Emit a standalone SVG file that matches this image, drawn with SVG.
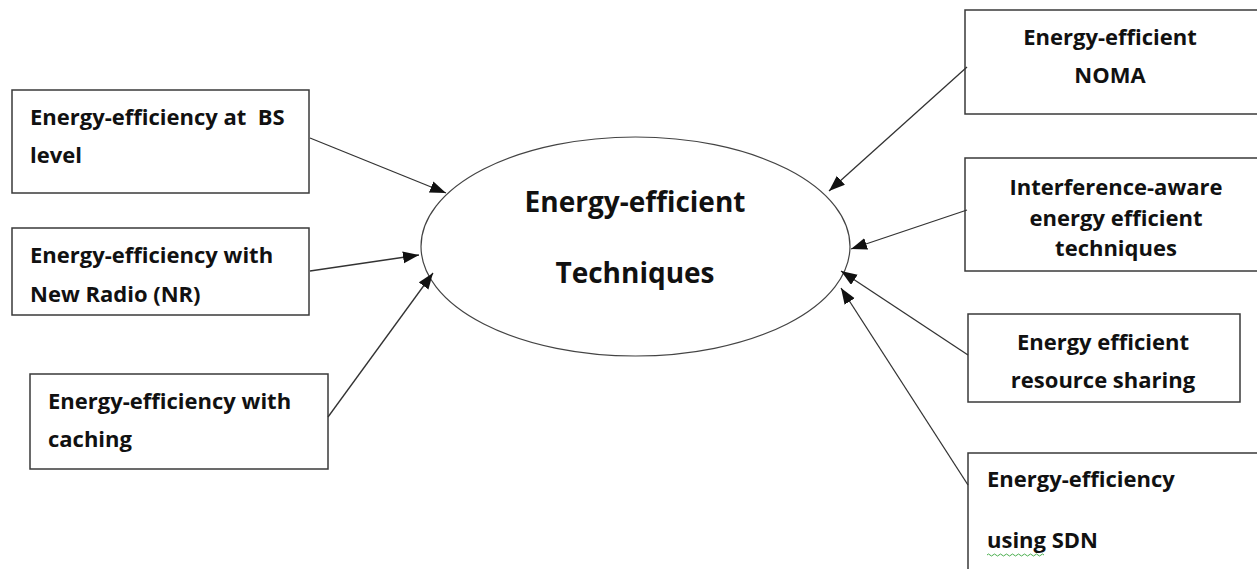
<svg xmlns="http://www.w3.org/2000/svg" width="1257" height="569" viewBox="0 0 1257 569">
<style>
.box{fill:#fff;stroke:#3a3a3a;stroke-width:1.5}
.ell{fill:#fff;stroke:#444;stroke-width:1.2}
.t{font-family:"Open Sans","Liberation Sans",sans-serif;font-weight:bold;font-size:22px;fill:#111}
.c{text-anchor:middle}
.big{font-size:28px}
.con{stroke:#333;stroke-width:1.3;fill:none;marker-end:url(#ah)}
</style>
<defs>
<marker id="ah" markerUnits="userSpaceOnUse" markerWidth="18" markerHeight="14" refX="16" refY="6" orient="auto">
<path d="M0,0 L16,6 L0,12 Z" fill="#111"/>
</marker>
</defs>
<rect width="1257" height="569" fill="#fff"/>
<g id="center">
<ellipse class="ell" cx="635.5" cy="246.5" rx="214.5" ry="109.5"/>
<text class="t c big" x="635" y="212">Energy-efficient</text>
<text class="t c big" x="635" y="283">Techniques</text>
</g>
<g id="bs">
<rect class="box" x="12" y="90" width="297" height="103"/>
<text class="t" x="30" y="125" xml:space="preserve">Energy-efficiency at  BS</text>
<text class="t" x="30" y="163">level</text>
</g>
<g id="nr">
<rect class="box" x="12" y="228" width="297" height="87"/>
<text class="t" x="30" y="263">Energy-efficiency with</text>
<text class="t" x="30" y="302">New Radio (NR)</text>
</g>
<g id="caching">
<rect class="box" x="30" y="374" width="298" height="95"/>
<text class="t" x="48" y="409">Energy-efficiency with</text>
<text class="t" x="48" y="447">caching</text>
</g>
<g id="noma">
<rect class="box" x="965" y="10" width="300" height="104"/>
<text class="t c" x="1110" y="45">Energy-efficient</text>
<text class="t c" x="1110" y="83">NOMA</text>
</g>
<g id="interference">
<rect class="box" x="965" y="158" width="300" height="113"/>
<text class="t c" x="1116" y="195">Interference-aware</text>
<text class="t c" x="1116" y="226">energy efficient</text>
<text class="t c" x="1116" y="256">techniques</text>
</g>
<g id="sharing">
<rect class="box" x="968" y="314" width="272" height="88"/>
<text class="t c" x="1103" y="350">Energy efficient</text>
<text class="t c" x="1103" y="388">resource sharing</text>
</g>
<g id="sdn">
<rect class="box" x="968" y="453" width="300" height="130"/>
<text class="t" x="987" y="487">Energy-efficiency</text>
<text class="t" x="987" y="548">using SDN</text>
<path d="M987,555 q1.5,-2 3,0 t3,0 t3,0 t3,0 t3,0 t3,0 t3,0 t3,0 t3,0 t3,0 t3,0 t3,0 t3,0 t3,0 t3,0 t3,0 t3,0 t3,0 t3,0" fill="none" stroke="#4caf50" stroke-width="1"/>
</g>
<g id="connectors">
<line class="con" x1="310" y1="138" x2="446" y2="193"/>
<line class="con" x1="310" y1="271" x2="419" y2="255"/>
<line class="con" x1="328" y1="417" x2="433" y2="273"/>
<line class="con" x1="967" y1="67" x2="829" y2="191"/>
<line class="con" x1="967" y1="210" x2="851" y2="249"/>
<line class="con" x1="968" y1="355" x2="841" y2="271"/>
<line class="con" x1="968" y1="485" x2="841" y2="288"/>
</g>
</svg>
